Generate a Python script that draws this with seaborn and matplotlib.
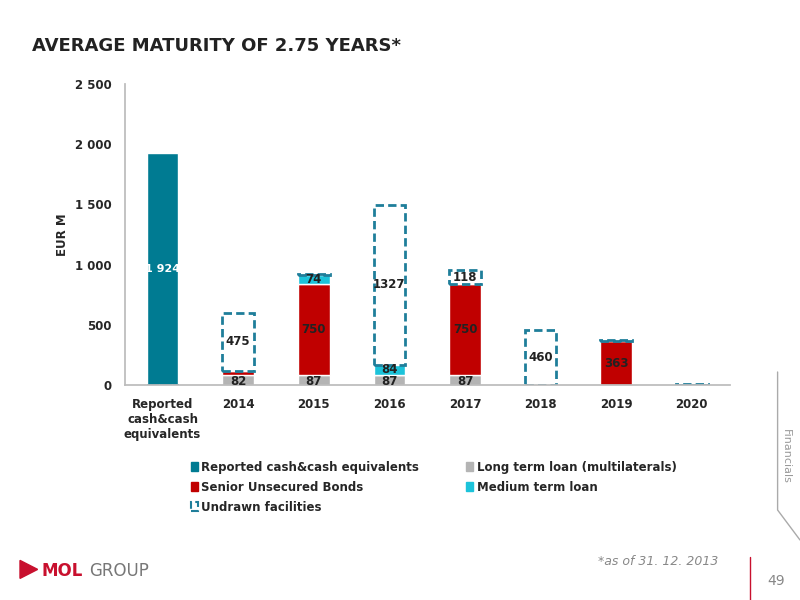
import matplotlib
matplotlib.use('Agg')
import matplotlib.pyplot as plt
import matplotlib.patches as mpatches
import matplotlib.ticker as mticker
import numpy as np
import seaborn as sns

sns.set_theme(style='white')
plt.rcParams['font.family'] = ['DejaVu Sans']

categories = ['Reported\ncash&cash\nequivalents', '2014', '2015', '2016', '2017', '2018', '2019', '2020']
cash = [1924, 0, 0, 0, 0, 0, 0, 0]
long_term = [0, 82, 87, 87, 87, 0, 0, 0]
bonds = [0, 40, 750, 0, 750, 0, 363, 0]
medium = [0, 0, 74, 84, 0, 0, 0, 0]
undrawn = [0, 475, 10, 1327, 118, 460, 10, 10]

TEAL, RED, GRAY, CYAN = '#007B92', '#C00000', '#B4B4B4', '#1CC3DA'

fig = plt.figure(figsize=(8, 6), dpi=100)
ax = fig.add_axes([0.156, 0.358, 0.756, 0.502])

x = np.arange(len(categories))
w = 0.42
sns.barplot(x=categories, y=cash, color=TEAL, width=w, ax=ax, saturation=1)
b = np.zeros(len(x))
for vals, col in [(long_term, GRAY), (bonds, RED), (medium, CYAN)]:
    ax.bar(x, vals, w, bottom=b, color=col)
    b += np.array(vals)
ax.bar(x, undrawn, w, bottom=b, facecolor='white', edgecolor='#1F7E9A',
       linestyle=(0, (3, 1.5)), linewidth=2)

fs = 8.5
ax.text(0, 1924 / 2, '1 924', ha='center', va='center', color='white', fontsize=8, fontweight='bold', zorder=5)
for i in range(len(x)):
    base = 0
    for k, vals in enumerate((long_term, bonds, medium)):
        v = vals[i]
        if v >= 70:
            y = base + v / 2 - (10 if k == 0 else 0)
            ax.text(i, y, str(v), ha='center', va='center', fontsize=fs, fontweight='bold', color='#222222', zorder=5)
        base += v
    if undrawn[i] >= 100:
        ax.text(i, base + undrawn[i] / 2, str(undrawn[i]), ha='center', va='center', fontsize=fs, fontweight='bold', color='#222222', zorder=5)

ax.set_xlim(-0.5, len(x) - 0.5)
ax.set_ylim(0, 2500)
ax.yaxis.set_major_locator(mticker.MultipleLocator(500))
ax.yaxis.set_major_formatter(mticker.FuncFormatter(lambda v, p: f'{int(v):,}'.replace(',', ' ')))
ax.set_xticks(x)
ax.set_xticklabels(categories, fontsize=fs, fontweight='bold', va='top')
ax.tick_params(axis='y', labelsize=fs)
for t in ax.get_yticklabels():
    t.set_fontweight('bold')
ax.set_ylabel('EUR M', fontsize=fs, fontweight='bold')
for s in ['top', 'right']:
    ax.spines[s].set_visible(False)
for s in ['left', 'bottom']:
    ax.spines[s].set_color('#BBBBBB')
ax.tick_params(axis='x', bottom=False)

handles = [mpatches.Patch(color=TEAL, label='Reported cash&cash equivalents'),
           mpatches.Patch(color=RED, label='Senior Unsecured Bonds'),
           mpatches.Patch(facecolor='white', edgecolor='#1F7E9A', linestyle='--', linewidth=1.5, label='Undrawn facilities'),
           mpatches.Patch(color=GRAY, label='Long term loan (multilaterals)'),
           mpatches.Patch(color=CYAN, label='Medium term loan')]
leg = fig.legend(handles=handles, ncol=2, loc='upper left', bbox_to_anchor=(0.225, 0.25),
                 frameon=False, fontsize=fs, handlelength=0.6, handleheight=0.8,
                 handletextpad=0.3, columnspacing=4.0, labelspacing=0.6)
for t in leg.get_texts():
    t.set_fontweight('bold')

fig.text(0.04, 0.915, 'AVERAGE MATURITY OF 2.75 YEARS*', fontsize=13, fontweight='bold', color='#222222')
fig.text(0.052, 0.04, 'MOL', fontsize=12, color='#C8102E', fontweight='bold')
fig.text(0.112, 0.04, 'GROUP', fontsize=12, color='#777777')
fig.patches.append(mpatches.Polygon([[0.025, 0.036], [0.025, 0.066], [0.047, 0.051]], closed=True,
                                    transform=fig.transFigure, color='#C8102E'))
fig.text(0.898, 0.058, '*as of 31. 12. 2013', fontsize=9, style='italic', color='#888888', ha='right')
fig.text(0.97, 0.025, '49', fontsize=10, color='#888888', ha='center')
fig.lines.append(plt.Line2D([0.937, 0.937], [0.0, 0.072], transform=fig.transFigure, color='#C8102E', lw=1))
fig.text(0.982, 0.24, 'Financials', rotation=270, fontsize=8, color='#999999', va='center', ha='center')
fig.lines.append(plt.Line2D([0.972, 0.972, 1.0], [0.38, 0.15, 0.10], transform=fig.transFigure, color='#AAAAAA', lw=1))

fig.savefig('out.png', dpi=100)
